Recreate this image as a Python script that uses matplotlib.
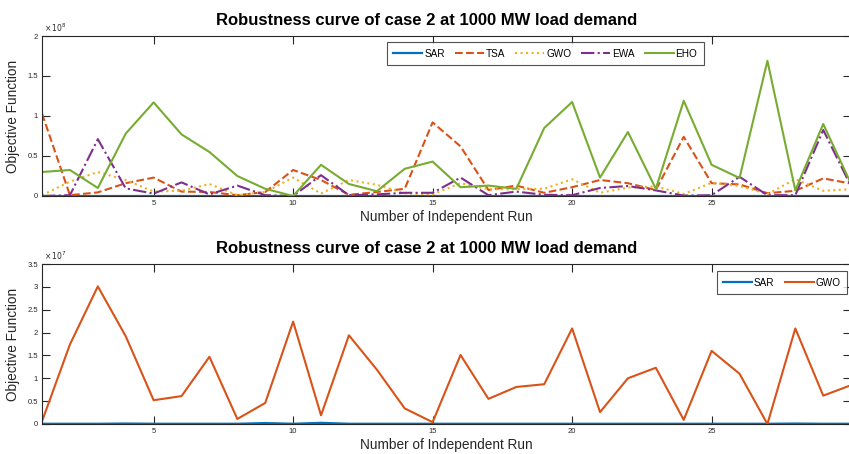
import numpy as np
import matplotlib
matplotlib.use("Agg")
import matplotlib.pyplot as plt
from matplotlib.ticker import FuncFormatter

plt.rcParams['font.family'] = ['Liberation Sans', 'DejaVu Sans']

runs = np.arange(1, 31)

# case 2, top panel (x 1e8)
sar_top = np.array([0.002] * 30) * 1e8
tsa = np.array([1.03, 0.01, 0.045, 0.16, 0.23, 0.055, 0.05, 0.01, 0.05, 0.325,
                0.20, 0.015, 0.05, 0.09, 0.92, 0.62, 0.075, 0.13, 0.04, 0.11,
                0.20, 0.16, 0.075, 0.74, 0.16, 0.145, 0.035, 0.065, 0.22, 0.155]) * 1e8
gwo_top = np.array([0.01, 0.18, 0.30, 0.20, 0.055, 0.065, 0.15, 0.01, 0.05, 0.23,
                    0.03, 0.20, 0.14, 0.035, 0.02, 0.16, 0.085, 0.085, 0.09, 0.21,
                    0.04, 0.105, 0.12, 0.025, 0.165, 0.125, 0.025, 0.21, 0.065, 0.085]) * 1e8
ewa = np.array([0.0, 0.01, 0.71, 0.095, 0.03, 0.17, 0.02, 0.13, 0.01, 0.0,
                0.26, 0.01, 0.02, 0.04, 0.04, 0.23, 0.01, 0.055, 0.015, 0.01,
                0.10, 0.125, 0.07, 0.005, 0.01, 0.24, 0.01, 0.01, 0.825, 0.12]) * 1e8
eho = np.array([0.30, 0.325, 0.10, 0.78, 1.17, 0.77, 0.55, 0.25, 0.09, 0.0,
                0.39, 0.15, 0.06, 0.34, 0.43, 0.11, 0.13, 0.09, 0.85, 1.175,
                0.23, 0.80, 0.09, 1.19, 0.39, 0.225, 1.69, 0.07, 0.90, 0.15]) * 1e8

# bottom panel (x 1e7)
sar_bot = np.array([0.005, 0.005, 0.005, 0.01, 0.005, 0.005, 0.005, 0.005, 0.02, 0.005,
                    0.025, 0.005, 0.005, 0.005, 0.005, 0.005, 0.005, 0.005, 0.005, 0.005,
                    0.005, 0.005, 0.005, 0.005, 0.005, 0.005, 0.005, 0.01, 0.005, 0.005]) * 1e7
gwo_bot = np.array([0.06, 1.74, 3.01, 1.92, 0.52, 0.61, 1.47, 0.11, 0.46, 2.24,
                    0.19, 1.94, 1.19, 0.34, 0.04, 1.51, 0.55, 0.81, 0.87, 2.09,
                    0.26, 1.00, 1.23, 0.09, 1.60, 1.10, 0.0, 2.09, 0.62, 0.85]) * 1e7

title = "Robustness curve of case 2 at 1000 MW load demand"
blue, orange, yellow, purple, green = "#0072BD", "#D95319", "#EDB120", "#7E2F8E", "#77AC30"
axcol = "#262626"

fig = plt.figure(figsize=(8.49, 4.54), dpi=100)
ax1 = fig.add_axes([0.0495, 0.5683, 0.953, 0.3524])
ax2 = fig.add_axes([0.0495, 0.0661, 0.953, 0.3524])


def style(ax, top, step, exp):
    ax.set_xlim(1, 30)
    ax.set_ylim(0, top)
    ax.set_xticks([5, 10, 15, 20, 25])
    ax.set_yticks(np.arange(0, top + step / 2, step))
    ax.yaxis.set_major_formatter(FuncFormatter(lambda v, p: f"{v / 10**exp:g}"))
    ax.tick_params(direction='in', length=5.5, width=0.8, top=True, right=True,
                   labelsize=5.5, colors=axcol, pad=3)
    for s in ax.spines.values():
        s.set_color(axcol)
        s.set_linewidth(0.8)
    ax.set_xlabel("Number of Independent Run", fontsize=9.8, color=axcol, labelpad=2)
    ax.set_ylabel("Objective Function", fontsize=9.8, color=axcol, labelpad=5)
    ax.set_title(title, fontsize=12, fontweight='bold', x=0.475, pad=8)
    ax.text(0.003, 1.015, r"$\times\,10^{%d}$" % exp, transform=ax.transAxes,
            fontsize=5.5, color=axcol, ha='left', va='bottom')


def legend(ax, **kw):
    leg = ax.legend(fontsize=7.2, frameon=True, fancybox=False, borderpad=0.65,
                    handlelength=2.9, columnspacing=1.0, handletextpad=0.2,
                    borderaxespad=0, **kw)
    leg.get_frame().set_edgecolor(axcol)
    leg.get_frame().set_linewidth(0.8)
    return leg


ax1.plot(runs, sar_top, color=blue, lw=1.6, label="SAR")
ax1.plot(runs, tsa, color=orange, lw=1.5, ls='--', label="TSA")
ax1.plot(runs, gwo_top, color=yellow, lw=1.5, ls=':', label="GWO")
ax1.plot(runs, ewa, color=purple, lw=1.5, ls='-.', label="EWA")
ax1.plot(runs, eho, color=green, lw=1.5, label="EHO")
style(ax1, 2e8, 0.5e8, 8)
legend(ax1, loc='upper left', bbox_to_anchor=(0.426, 0.9625), ncol=5)

ax2.plot(runs, sar_bot, color=blue, lw=1.6, label="SAR")
ax2.plot(runs, gwo_bot, color=orange, lw=1.5, label="GWO")
style(ax2, 3.5e7, 0.5e7, 7)
legend(ax2, loc='upper right', bbox_to_anchor=(0.995, 0.956), ncol=2)

fig.savefig("out.png", dpi=100)
